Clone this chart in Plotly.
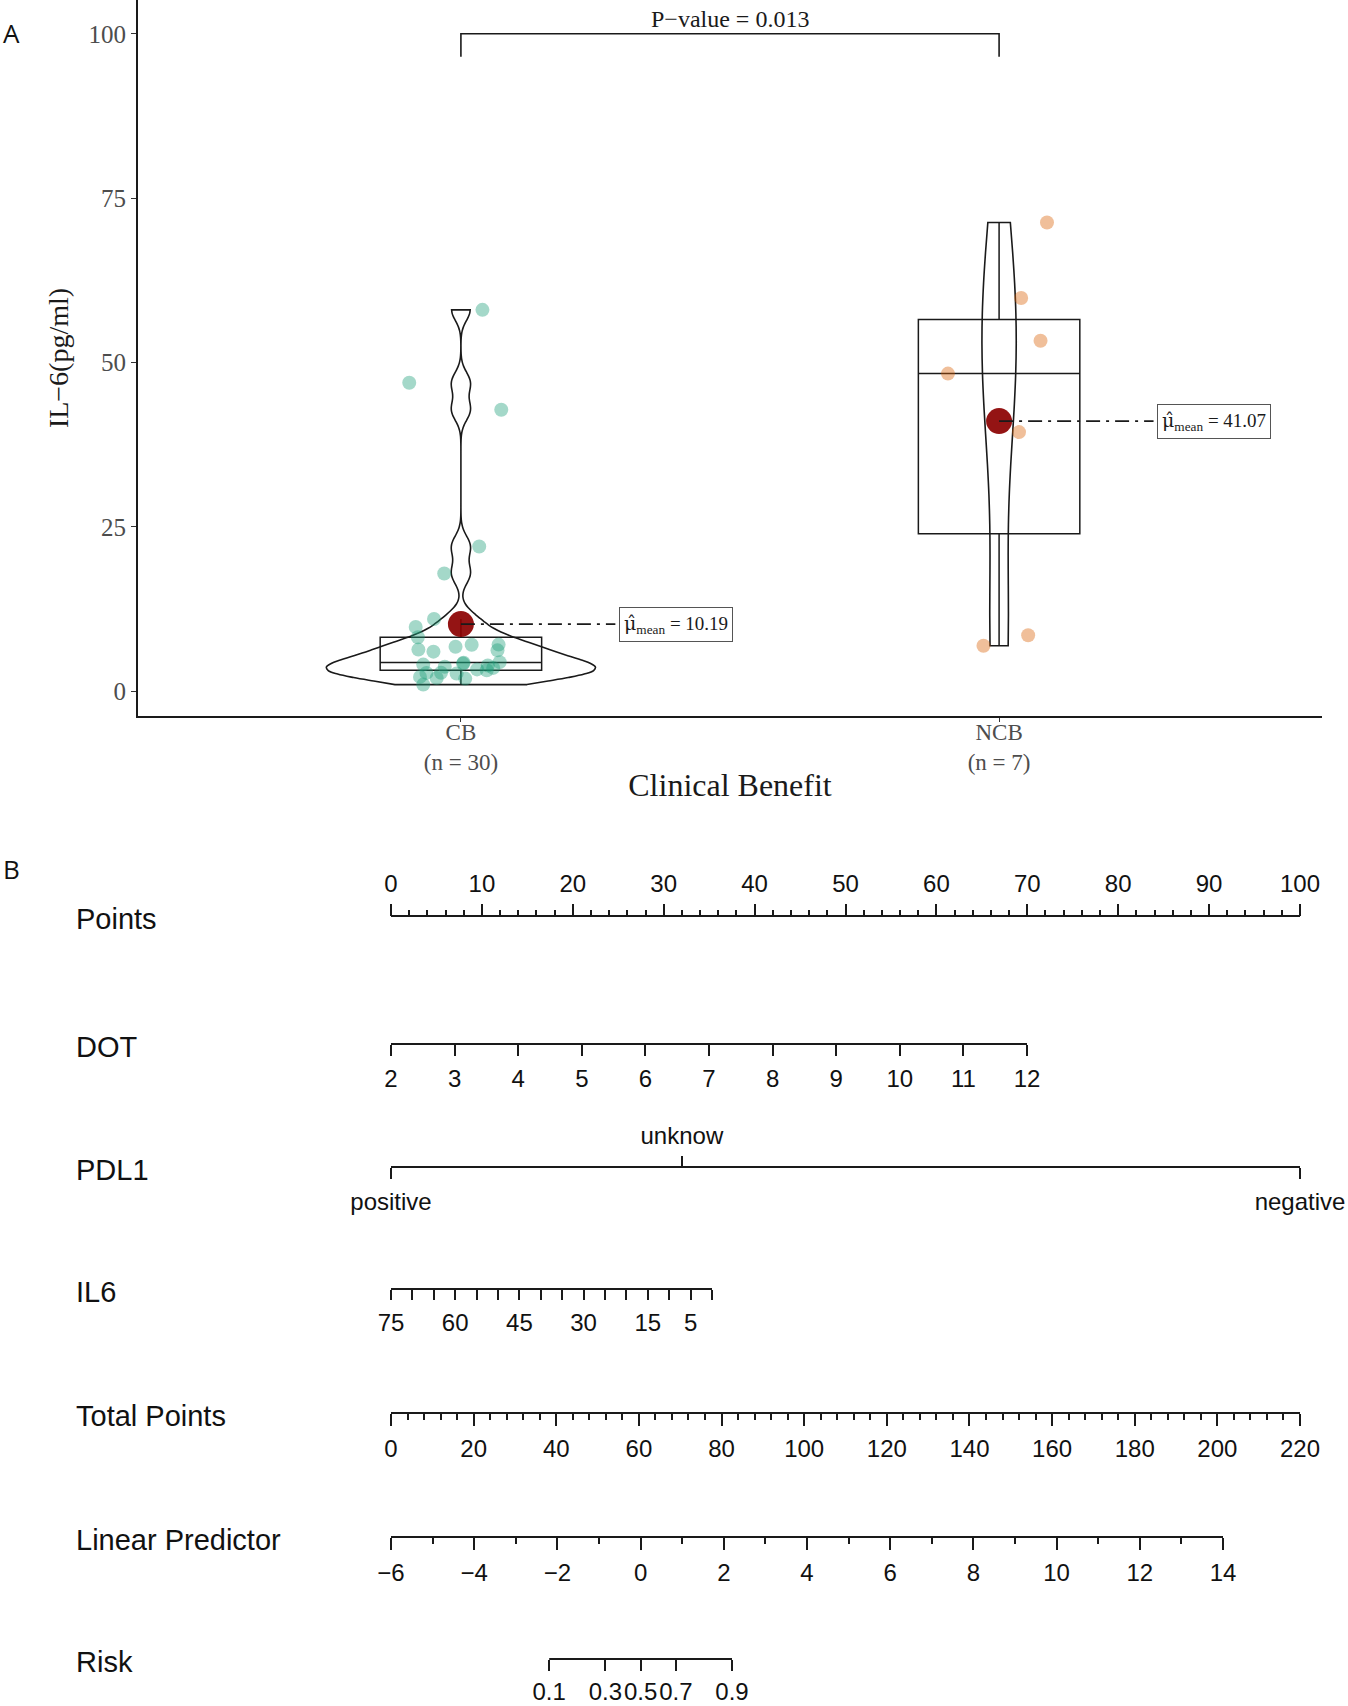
import numpy as np
import plotly.graph_objects as go

W, H = 1348, 1706

# ---------------- panel A data (IL-6 by clinical benefit) ----------------
groups = ["CB", "NCB"]
cb_il6 = [58.0, 46.9, 42.8, 22.0, 17.9, 10.97, 9.76, 8.2,
          7.07, 7.05, 6.75, 6.31, 6.2, 6.0, 4.4, 4.3, 4.18, 4.03, 3.9,
          3.7, 3.53, 3.3, 3.16, 2.8, 2.77, 2.66, 2.16, 2.0, 1.9, 0.99]
cb_jitter = [0.040, -0.096, 0.075, 0.034, -0.031, -0.050, -0.084, -0.080,
             0.070, 0.020, -0.010, -0.079, 0.068, -0.051, 0.072, 0.005, 0.004, -0.070, 0.050,
             -0.030, 0.060, 0.030, 0.048, -0.037, -0.064, -0.008, -0.076, -0.045, 0.008, -0.070]
ncb_il6 = [71.3, 59.8, 53.3, 48.3, 39.4, 8.5, 6.9]
ncb_jitter = [0.089, 0.041, 0.077, -0.095, 0.037, 0.054, -0.029]
p_value = "0.013"

# ---------------- panel B nomogram scales ----------------
points_ticks = [0, 10, 20, 30, 40, 50, 60, 70, 80, 90, 100]
dot_ticks = [2, 3, 4, 5, 6, 7, 8, 9, 10, 11, 12]
pdl1_levels = ["positive", "unknow", "negative"]
pdl1_points = [0, 32, 100]
il6_ticks = [75, 70, 65, 60, 55, 50, 45, 40, 35, 30, 25, 20, 15, 10, 5, 0]
il6_labels = [75, 60, 45, 30, 15, 5]
total_ticks = [0, 20, 40, 60, 80, 100, 120, 140, 160, 180, 200, 220]
lp_ticks = [-6, -4, -2, 0, 2, 4, 6, 8, 10, 12, 14]
risk_ticks = [0.1, 0.3, 0.5, 0.7, 0.9]

SANS = "Liberation Sans"
SERIF = "Liberation Serif"
INK = "#1a1a1a"
point_colors = ["rgba(27,158,119,0.4)", "rgba(217,95,2,0.4)"]


def px(x):
    return x / W


def py(y):
    return 1 - y / H


def nrd0(v):
    v = np.asarray(v, dtype=float)
    q75, q25 = np.percentile(v, [75, 25])
    return 0.9 * min(v.std(ddof=1), (q75 - q25) / 1.34) * len(v) ** -0.2


def kde_peak(v, bw):
    # peak of the gaussian density, used to give violins equal area (ggplot "area" scale)
    v = np.asarray(v, dtype=float)
    grid = np.linspace(v.min(), v.max(), 500)
    d = np.exp(-0.5 * ((grid[:, None] - v[None, :]) / bw) ** 2).sum(1)
    return d.max() / (len(v) * bw * np.sqrt(2 * np.pi))


def minus(v):
    return str(v).replace("-", "\u2212")


fig = go.Figure()

# ---------------- panel A ----------------
il6 = [cb_il6, ncb_il6]
jit = [cb_jitter, ncb_jitter]
bws = [nrd0(v) for v in il6]
peaks = [kde_peak(v, b) for v, b in zip(il6, bws)]

for i, vals in enumerate(il6):
    xg = i + 1
    fig.add_trace(go.Box(x=[xg] * len(vals), y=vals, width=0.3, boxpoints="outliers",
                         quartilemethod="inclusive",
                         marker=dict(opacity=0), whiskerwidth=0,
                         line=dict(color=INK, width=1.5), fillcolor="rgba(0,0,0,0)",
                         showlegend=False, hoverinfo="skip"))
    fig.add_trace(go.Violin(x=[xg] * len(vals), y=vals, width=0.5 * peaks[i] / max(peaks),
                            scalemode="width", spanmode="hard", bandwidth=bws[i],
                            points=False, line=dict(color=INK, width=1.6),
                            fillcolor="rgba(0,0,0,0)", showlegend=False, hoverinfo="skip"))
    fig.add_trace(go.Scatter(x=[xg + d for d in jit[i]], y=vals, mode="markers",
                             marker=dict(size=14, color=point_colors[i], line_width=0),
                             showlegend=False))
    m = float(np.mean(vals))
    fig.add_trace(go.Scatter(x=[xg], y=[m], mode="markers",
                             marker=dict(size=26, color="rgba(139,0,0,0.92)", line_width=0),
                             showlegend=False))
    fig.add_trace(go.Scatter(x=[xg, xg + 0.287], y=[m, m], mode="lines",
                             line=dict(color=INK, width=1.8, dash="14px,6px,3px,6px"),
                             showlegend=False, hoverinfo="skip"))
    fig.add_annotation(x=xg + 0.40, y=m, xref="x", yref="y",
                       text=(f"<span style='font-family:DejaVu Serif'>\u03bc\u0302</span>"
                             f"<sub>mean</sub> = {m:.2f}"),
                       showarrow=False,
                       font=dict(family=SERIF, size=19, color=INK),
                       bordercolor="#555", borderwidth=1, borderpad=4, bgcolor="white")

# significance bracket
fig.add_trace(go.Scatter(x=[1, 1, 2, 2], y=[96.5, 100, 100, 96.5], mode="lines",
                         line=dict(color=INK, width=1.6), showlegend=False, hoverinfo="skip"))
fig.add_annotation(x=1.5, y=102.2, xref="x", yref="y", text=f"P\u2212value = {p_value}",
                   showarrow=False, font=dict(family=SERIF, size=24, color=INK))

fig.update_layout(
    xaxis=dict(domain=[px(138), px(1322)], range=[0.4, 2.6], anchor="y", automargin=False,
               tickvals=[1, 2],
               ticktext=[f"{g}<br>(n = {len(v)})" for g, v in zip(groups, il6)],
               ticks="outside", ticklen=4, tickcolor="#333", ticklabelstandoff=-10,
               tickfont=dict(family=SERIF, size=23, color="#4d4d4d"),
               showline=True, linecolor=INK, linewidth=2,
               showgrid=False, zeroline=False,
               title=dict(text="Clinical Benefit", standoff=0,
                          font=dict(family=SERIF, size=32, color=INK))),
    yaxis=dict(domain=[py(716), 1.0], range=[-3.79, 105.14], anchor="x", automargin=False,
               tickvals=[0, 25, 50, 75, 100],
               ticks="outside", ticklen=5, tickcolor="#333",
               tickfont=dict(family=SERIF, size=25, color="#4d4d4d"),
               showline=True, linecolor=INK, linewidth=2,
               showgrid=False, zeroline=False,
               title=dict(text="IL\u22126(pg/ml)", standoff=12,
                          font=dict(family=SERIF, size=28, color=INK))),
)

# ---------------- panel B nomogram ----------------
lp_range = [min(lp_ticks), max(lp_ticks)]
logit = lambda p: float(np.log(p / (1 - p)))
risk_vals = [logit(r) for r in risk_ticks]

rows = [
    dict(name="Points", y=916, x0=391, x1=1300, rng=[min(points_ticks), max(points_ticks)],
         vals=points_ticks, text=[str(v) for v in points_ticks], side="top", len=12,
         minor=dict(tickmode="linear", tick0=0, dtick=2, ticklen=6)),
    dict(name="DOT", y=1044, x0=391, x1=1027, rng=[min(dot_ticks), max(dot_ticks)],
         vals=dot_ticks, text=[str(v) for v in dot_ticks], side="bottom", len=11),
    dict(name="PDL1", y=1167, x0=391, x1=1300, rng=[min(points_ticks), max(points_ticks)],
         vals=[pdl1_points[0], pdl1_points[2]], text=[pdl1_levels[0], pdl1_levels[2]],
         side="bottom", len=11,
         top=dict(vals=[pdl1_points[1]], text=[pdl1_levels[1]])),
    dict(name="IL6", y=1289, x0=391, x1=712, rng=[max(il6_ticks), min(il6_ticks)],
         vals=il6_labels, text=[str(v) for v in il6_labels], side="bottom", len=10,
         minor=dict(tickmode="array", tickvals=il6_ticks, ticklen=10)),
    dict(name="Total Points", y=1413, x0=391, x1=1300, rng=[min(total_ticks), max(total_ticks)],
         vals=total_ticks, text=[str(v) for v in total_ticks], side="bottom", len=12,
         minor=dict(tickmode="linear", tick0=0, dtick=4, ticklen=6)),
    dict(name="Linear Predictor", y=1537, x0=391, x1=1223, rng=lp_range,
         vals=lp_ticks, text=[minus(v) for v in lp_ticks], side="bottom", len=12,
         minor=dict(tickmode="linear", tick0=lp_range[0], dtick=1, ticklen=6)),
    dict(name="Risk", y=1659, x0=391, x1=1223, rng=lp_range, line=[risk_vals[0], risk_vals[-1]],
         vals=risk_vals, text=[str(r) for r in risk_ticks], side="bottom", len=11, standoff=0),
]

tickfont_b = dict(family=SANS, size=24, color="#111")
k = 2
for r in rows:
    xa, ya = f"xaxis{k}", f"yaxis{k}"
    xs = r.get("line", r["rng"])
    fig.add_trace(go.Scatter(x=xs, y=[0, 0], xaxis=f"x{k}", yaxis=f"y{k}", mode="lines",
                             line=dict(color=INK, width=2), showlegend=False, hoverinfo="skip"))
    ax = dict(domain=[px(r["x0"]), px(r["x1"])], range=r["rng"], anchor="free",
              position=py(r["y"]), side=r["side"], automargin=False,
              tickmode="array", tickvals=r["vals"], ticktext=r["text"], tickangle=0,
              ticks="outside", ticklen=r["len"], tickwidth=2, tickcolor=INK,
              tickfont=tickfont_b, ticklabelstandoff=r.get("standoff", 2),
              showline=False, showgrid=False, zeroline=False, fixedrange=True)
    if "minor" in r:
        mn = dict(ticks="outside", tickwidth=2, tickcolor=INK, showgrid=False)
        mn.update(r["minor"])
        ax["minor"] = mn
    fig.update_layout({xa: ax,
                       ya: dict(domain=[py(r["y"]) - 0.01, py(r["y"]) + 0.01], range=[-1, 1],
                                anchor=f"x{k}", visible=False, fixedrange=True,
                                automargin=False)})
    fig.add_annotation(x=px(74), y=py(r["y"] + 3), xref="paper", yref="paper",
                       xanchor="left", yanchor="middle", text=r["name"], showarrow=False,
                       font=dict(family=SANS, size=29, color="#111"))
    k += 1
    if "top" in r:
        fig.update_layout({f"xaxis{k}": dict(overlaying=f"x{k - 1}", range=r["rng"],
                                             anchor="free", position=py(r["y"]), side="top",
                                             automargin=False, tickangle=0,
                                             tickmode="array", tickvals=r["top"]["vals"],
                                             ticktext=r["top"]["text"],
                                             ticks="outside", ticklen=11, tickwidth=2,
                                             tickcolor=INK, tickfont=tickfont_b,
                                             ticklabelstandoff=2,
                                             showline=False, showgrid=False,
                                             zeroline=False, fixedrange=True)})
        fig.add_trace(go.Scatter(x=r["top"]["vals"], y=[0], xaxis=f"x{k}", yaxis=f"y{k - 1}",
                                 mode="markers", marker=dict(opacity=0),
                                 showlegend=False, hoverinfo="skip"))
        k += 1

# panel letters
for letter, yy in [("A", 33), ("B", 869)]:
    fig.add_annotation(x=px(1), y=py(yy), xref="paper", yref="paper", xanchor="left",
                       yanchor="middle", text=letter, showarrow=False,
                       font=dict(family="Open Sans", size=26, color="#111"))

fig.update_layout(width=W, height=H, margin=dict(l=0, r=0, t=0, b=0),
                  paper_bgcolor="white", plot_bgcolor="white", showlegend=False)

# drop the browser's default body margin so the figure sits at the page origin
fig.write_html("out.html", config={"displayModeBar": False},
               post_script="document.body.style.margin='0';")
